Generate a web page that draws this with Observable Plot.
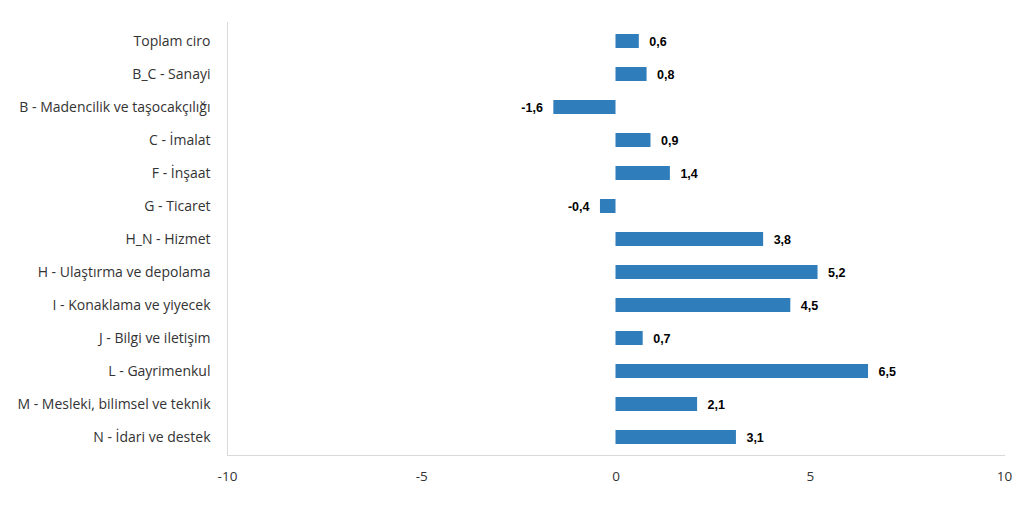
<!DOCTYPE html>
<html>
<head>
<meta charset="utf-8">
<script src="https://cdn.jsdelivr.net/npm/d3@7"></script>
<script src="https://cdn.jsdelivr.net/npm/@observablehq/plot@0.6"></script>
<style>
  html, body { margin: 0; padding: 0; background: #fff; }
  #chart svg { display: block; }
</style>
</head>
<body>
<div id="chart"></div>
<script>
const categories = [
  "Toplam ciro",
  "B_C - Sanayi",
  "B - Madencilik ve taşocakçılığı",
  "C - İmalat",
  "F - İnşaat",
  "G - Ticaret",
  "H_N - Hizmet",
  "H - Ulaştırma ve depolama",
  "I - Konaklama ve yiyecek",
  "J - Bilgi ve iletişim",
  "L - Gayrimenkul",
  "M - Mesleki, bilimsel ve teknik",
  "N - İdari ve destek"
];
const values = [0.6, 0.8, -1.6, 0.9, 1.4, -0.4, 3.8, 5.2, 4.5, 0.7, 6.5, 2.1, 3.1];
const xTicks = [-10, -5, 0, 5, 10];

const data = categories.map((c, i) => ({category: c, value: values[i]}));
const fmt = v => v.toFixed(1).replace(".", ",");

const chart = Plot.plot({
  width: 1024,
  height: 506,
  marginLeft: 227,
  marginRight: 20,
  marginTop: 22,
  marginBottom: 51,
  style: {fontFamily: "'Open Sans', sans-serif", fontSize: "14px", color: "#333"},
  x: {domain: [-10, 10], ticks: xTicks, label: null},
  y: {domain: categories, paddingInner: 0.58, paddingOuter: 0.29, label: null},
  marks: [
    Plot.axisX({ticks: xTicks, tickSize: 0, tickPadding: 16, tickFormat: d => String(d), fontSize: 13.5}),
    Plot.axisY({tickSize: 0, tickPadding: 17, fontSize: 14}),
    Plot.ruleX([-10], {stroke: "#d9d9d9", strokeWidth: 1}),
    Plot.frame({anchor: "bottom", stroke: "#d9d9d9"}),
    Plot.barX(data, {x: "value", y: "category", fill: "#2f7dbb", insetTop: 0, insetBottom: 0}),
    Plot.text(data.filter(d => d.value >= 0), {x: "value", y: "category", text: d => fmt(d.value), dx: 10, textAnchor: "start", fontWeight: "bold", fontFamily: "'Liberation Sans', Arial, sans-serif", fontSize: 12.5, fill: "#000"}),
    Plot.text(data.filter(d => d.value < 0), {x: "value", y: "category", text: d => fmt(d.value), dx: -11, textAnchor: "end", fontWeight: "bold", fontFamily: "'Liberation Sans', Arial, sans-serif", fontSize: 12.5, fill: "#000"})
  ]
});
document.getElementById("chart").appendChild(chart);
</script>
</body>
</html>
